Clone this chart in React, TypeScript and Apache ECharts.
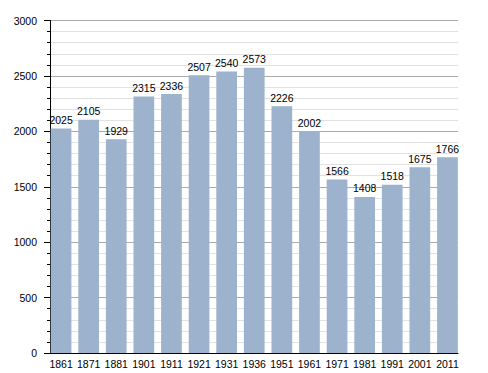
import React, { useEffect, useRef } from "react";
import * as echarts from "echarts";

const years = ["1861", "1871", "1881", "1901", "1911", "1921", "1931", "1936", "1951", "1961", "1971", "1981", "1991", "2001", "2011"];
const population = [2025, 2105, 1929, 2315, 2336, 2507, 2540, 2573, 2226, 2002, 1566, 1408, 1518, 1675, 1766];

const FONT = "'Liberation Sans', Arial, sans-serif";

export default function App() {
  const ref = useRef<HTMLDivElement>(null);
  useEffect(() => {
    if (!ref.current) return;
    const chart = echarts.init(ref.current, null, { renderer: "svg" });
    chart.setOption({
      animation: false,
      backgroundColor: "#ffffff",
      textStyle: { fontFamily: FONT },
      grid: [
        { left: 50, right: 30, top: 20.5, bottom: 20, containLabel: false },
        { left: 47.25, right: 26.75, top: 20.5, bottom: 20, containLabel: false },
      ],
      xAxis: [
        {
          type: "category",
          gridIndex: 0,
          data: years,
          axisLine: { show: true, lineStyle: { color: "#000", width: 1 } },
          axisTick: { show: false },
          axisLabel: { show: false },
          splitLine: { show: false },
        },
        {
          type: "category",
          gridIndex: 1,
          data: years,
          axisLine: { show: false },
          axisTick: { show: false },
          axisLabel: { show: true, color: "#000", fontSize: 10.5, margin: 5, fontFamily: FONT, interval: 0 },
          splitLine: { show: false },
        },
      ],
      yAxis: [
        {
          type: "value",
          gridIndex: 0,
          min: 0,
          max: 3000,
          interval: 500,
          axisLine: { show: true, lineStyle: { color: "#000", width: 1 } },
          axisTick: { show: true, length: 6, lineStyle: { color: "#000" } },
          minorTick: { show: true, splitNumber: 5, length: 3, lineStyle: { color: "#000" } },
          axisLabel: {
            color: "#000",
            fontSize: 10.5,
            margin: 13,
            fontFamily: FONT,
            formatter: (v: number) => String(v),
          },
          splitLine: { show: true, lineStyle: { color: "#aaaaaa", width: 1 } },
          minorSplitLine: { show: true, lineStyle: { color: "#e2e2e2", width: 1 } },
        },
        {
          type: "value",
          gridIndex: 1,
          min: 0,
          max: 3000,
          interval: 500,
          show: false,
          splitLine: { show: false },
        },
      ],
      series: [
        {
          type: "bar",
          xAxisIndex: 1,
          yAxisIndex: 1,
          data: population,
          barWidth: 20.7,
          itemStyle: { color: "#9cb2cd" },
          label: {
            show: true,
            position: "top",
            distance: 3,
            color: "#000",
            fontSize: 10.5,
            fontFamily: FONT,
          },
        },
      ],
    });
    return () => chart.dispose();
  }, []);
  return <div ref={ref} style={{ width: 488, height: 373, position: "absolute", left: 0, top: 0 }} />;
}
